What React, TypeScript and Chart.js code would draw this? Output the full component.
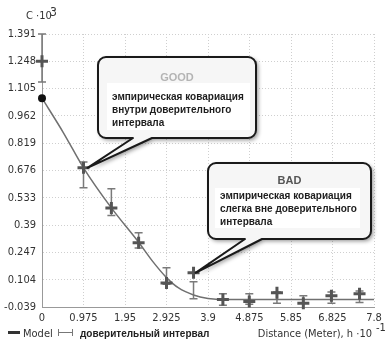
import React, { useEffect, useRef } from "react";
import { Chart, registerables } from "chart.js";
Chart.register(...registerables);

const xTickValues = [0, 0.975, 1.95, 2.925, 3.9, 4.875, 5.85, 6.825, 7.8];
const xTickLabels = ["0", "0.975", "1.95", "2.925", "3.9", "4.875", "5.85", "6.825", "7.8"];
const yTickValues = [-0.039, 0.104, 0.247, 0.39, 0.533, 0.676, 0.819, 0.962, 1.105, 1.248, 1.391];
const yTickLabels = ["-0.039", "0.104", "0.247", "0.39", "0.533", "0.676", "0.819", "0.962", "1.105", "1.248", "1.391"];

const modelDistance = [0, 0.5, 0.975, 1.63, 2.27, 2.6, 2.925, 3.2, 3.56, 3.9, 4.3, 7.8];
const modelCovariance = [1.055, 0.875, 0.69, 0.48, 0.3, 0.2, 0.115, 0.062, 0.024, 0.006, 0.0, 0.0];

const empDistance = [0, 0.975, 1.63, 2.27, 2.925, 3.56, 4.25, 4.87, 5.52, 6.14, 6.8, 7.46];
const empCovariance = [1.248, 0.69, 0.48, 0.297, 0.087, 0.14, 0.0, -0.01, 0.035, -0.02, 0.02, 0.03];
const ciLow = [1.14, 0.585, 0.44, 0.27, 0.08, 0.004, -0.03, -0.025, -0.02, -0.02, -0.02, -0.015];
const ciHigh = [1.391, 0.72, 0.58, 0.35, 0.166, 0.093, 0.03, 0.03, 0.04, 0.02, 0.04, 0.045];

const goodIndex = 1;
const badIndex = 5;
const goodLines = ["эмпирическая ковариация", "внутри доверительного", "интервала"];
const badLines = ["эмпирическая ковариация", "слегка вне доверительного", "интервала"];

const NARROW = "'Liberation Sans Narrow', 'DejaVu Sans Condensed', 'Liberation Sans', Arial, sans-serif";
const SANS = "'Liberation Sans', Arial, sans-serif";

function calloutPath(ctx: CanvasRenderingContext2D, bx: number, by: number, bw: number, bh: number, r: number, t1: number, t2: number, tx: number, ty: number) {
  ctx.beginPath();
  ctx.moveTo(bx + r, by);
  ctx.lineTo(bx + bw - r, by);
  ctx.arcTo(bx + bw, by, bx + bw, by + r, r);
  ctx.lineTo(bx + bw, by + bh - r);
  ctx.arcTo(bx + bw, by + bh, bx + bw - r, by + bh, r);
  ctx.lineTo(t2, by + bh);
  ctx.lineTo(tx, ty);
  ctx.lineTo(t1, by + bh);
  ctx.lineTo(bx + r, by + bh);
  ctx.arcTo(bx, by + bh, bx, by + bh - r, r);
  ctx.lineTo(bx, by + r);
  ctx.arcTo(bx, by, bx + r, by, r);
  ctx.closePath();
}

function drawCallout(
  ctx: CanvasRenderingContext2D,
  box: { x: number; y: number; w: number; h: number },
  tail: [number, number],
  tip: { x: number; y: number },
  inner: { x: number; y: number; w: number; h: number },
  title: string,
  titleColor: string,
  titleY: number,
  lines: string[],
  textX: number,
  textY: number
) {
  ctx.save();
  ctx.shadowColor = "rgba(0,0,0,0.45)";
  ctx.shadowBlur = 4;
  ctx.shadowOffsetX = 2;
  ctx.shadowOffsetY = 2;
  calloutPath(ctx, box.x, box.y, box.w, box.h, 8, tail[0], tail[1], tip.x, tip.y);
  ctx.fillStyle = "#f6f6f6";
  ctx.fill();
  ctx.restore();
  ctx.save();
  calloutPath(ctx, box.x, box.y, box.w, box.h, 8, tail[0], tail[1], tip.x, tip.y);
  ctx.strokeStyle = "#1a1a1a";
  ctx.lineWidth = 2;
  ctx.lineJoin = "round";
  ctx.stroke();
  ctx.fillStyle = "#ffffff";
  ctx.fillRect(inner.x, inner.y, inner.w, inner.h);
  ctx.fillStyle = titleColor;
  ctx.font = "bold 11px " + SANS;
  ctx.textAlign = "center";
  ctx.textBaseline = "middle";
  ctx.fillText(title, box.x + box.w / 2, titleY);
  ctx.fillStyle = "#1e1e1e";
  ctx.font = "bold 10px " + SANS;
  ctx.textAlign = "left";
  lines.forEach((l, i) => ctx.fillText(l, textX, textY + i * 13));
  ctx.restore();
}

const errorBarPlugin = {
  id: "errorBars",
  beforeDatasetsDraw(chart: any) {
    const { ctx, scales } = chart;
    const x = scales.x;
    const y = scales.y;
    ctx.save();
    ctx.strokeStyle = "#7a7a7a";
    ctx.lineWidth = 1.5;
    for (let i = 0; i < empDistance.length; i++) {
      const px = x.getPixelForValue(empDistance[i]);
      const yl = y.getPixelForValue(ciLow[i]);
      const yh = y.getPixelForValue(ciHigh[i]);
      ctx.beginPath();
      ctx.moveTo(px, yl);
      ctx.lineTo(px, yh);
      ctx.moveTo(px - 4, yl);
      ctx.lineTo(px + 4, yl);
      ctx.moveTo(px - 4, yh);
      ctx.lineTo(px + 4, yh);
      ctx.stroke();
    }
    ctx.restore();
  },
};

const decorPlugin = {
  id: "decor",
  afterDraw(chart: any) {
    const { ctx, scales } = chart;
    const x = scales.x;
    const y = scales.y;
    ctx.save();
    ctx.fillStyle = "#333";
    ctx.textBaseline = "alphabetic";
    ctx.textAlign = "left";
    ctx.font = "11px " + NARROW;
    ctx.fillText("C ·10", 26, 19);
    ctx.font = "12px " + NARROW;
    ctx.fillText("3", 50, 16);
    ctx.font = "11px " + NARROW;
    ctx.textAlign = "right";
    ctx.fillText("Distance (Meter), h ·10", 372, 337);
    ctx.textAlign = "left";
    ctx.font = "11px " + NARROW;
    ctx.fillText("-1", 376, 331);
    ctx.fillStyle = "#333";
    ctx.fillRect(8, 331, 12, 3);
    ctx.font = "11px " + NARROW;
    ctx.fillText("Model", 23, 337);
    ctx.strokeStyle = "#777";
    ctx.lineWidth = 1;
    ctx.beginPath();
    ctx.moveTo(58, 332.5);
    ctx.lineTo(73, 332.5);
    ctx.moveTo(58.5, 329);
    ctx.lineTo(58.5, 336);
    ctx.moveTo(72.5, 329);
    ctx.lineTo(72.5, 336);
    ctx.stroke();
    ctx.fillStyle = "#222";
    ctx.font = "bold 10px " + SANS;
    ctx.fillText("доверительный интервал", 80, 337);
    ctx.restore();

    const g = { x: x.getPixelForValue(empDistance[goodIndex]) + 4, y: y.getPixelForValue(empCovariance[goodIndex]) };
    drawCallout(ctx, { x: 98, y: 57, w: 158, h: 81 }, [133, 152], g,
      { x: 107, y: 83, w: 143, h: 47 }, "GOOD", "#b4b4b4", 78, goodLines, 112, 97);
    const b = { x: x.getPixelForValue(empDistance[badIndex]) + 2, y: y.getPixelForValue(empCovariance[badIndex]) };
    drawCallout(ctx, { x: 208, y: 163, w: 163, h: 76 }, [245, 262], b,
      { x: 215, y: 188, w: 145, h: 40 }, "BAD", "#555", 181, badLines, 220, 196);
  },
};

export default function App() {
  const ref = useRef<HTMLCanvasElement | null>(null);
  useEffect(() => {
    if (!ref.current) return;
    const chart = new Chart(ref.current, {
      type: "scatter",
      data: {
        datasets: [
          {
            type: "scatter",
            label: "Empirical",
            data: empDistance.map((d, i) => ({ x: d, y: empCovariance[i] })),
            pointStyle: "cross",
            pointRadius: 6,
            pointBorderWidth: 3,
            borderColor: "#555",
            backgroundColor: "#555",
            order: 0,
            clip: false,
          } as any,
          {
            type: "line",
            label: "Model",
            data: modelDistance.map((d, i) => ({ x: d, y: modelCovariance[i] })),
            borderColor: "#707070",
            borderWidth: 1.5,
            cubicInterpolationMode: "monotone",
            pointRadius: (c: any) => (c.dataIndex === 0 ? 4 : 0),
            pointBackgroundColor: "#111",
            pointBorderColor: "#111",
            pointBorderWidth: 0,
            fill: false,
            order: 1,
            clip: false,
          } as any,
        ],
      },
      options: {
        animation: false,
        responsive: false,
        maintainAspectRatio: false,
        layout: { padding: { left: 0, right: 13, top: 34, bottom: 0 } },
        plugins: { legend: { display: false }, tooltip: { enabled: false }, title: { display: false } },
        scales: {
          x: {
            type: "linear",
            min: 0,
            max: 7.8,
            afterBuildTicks: (s: any) => {
              s.ticks = xTickValues.map((v) => ({ value: v }));
            },
            afterFit: (s: any) => {
              s.height = 42;
            },
            ticks: {
              callback: (_v: any, i: number) => xTickLabels[i],
              color: "#333",
              font: { family: NARROW, size: 11 },
              padding: 5,
              maxRotation: 0,
              autoSkip: false,
            },
            grid: { color: "#cfcfcf", drawTicks: false, lineWidth: 1 },
            border: { display: true, color: "#999", width: 1, dash: [1, 2] },
          },
          y: {
            type: "linear",
            min: -0.039,
            max: 1.391,
            afterBuildTicks: (s: any) => {
              s.ticks = yTickValues.map((v) => ({ value: v }));
            },
            afterFit: (s: any) => {
              s.width = 42;
            },
            ticks: {
              callback: (_v: any, i: number) => yTickLabels[i],
              color: "#333",
              font: { family: NARROW, size: 11 },
              padding: 6,
              autoSkip: false,
            },
            grid: { color: "#cfcfcf", drawTicks: false, lineWidth: 1 },
            border: { display: true, color: "#999", width: 1, dash: [1, 2] },
          },
        },
      } as any,
      plugins: [errorBarPlugin, decorPlugin],
    });
    return () => chart.destroy();
  }, []);
  return (
    <div style={{ position: "fixed", left: 0, top: 0, width: 387, height: 349, background: "#fff" }}>
      <canvas ref={ref} width={387} height={349} style={{ width: 387, height: 349 }} />
    </div>
  );
}
